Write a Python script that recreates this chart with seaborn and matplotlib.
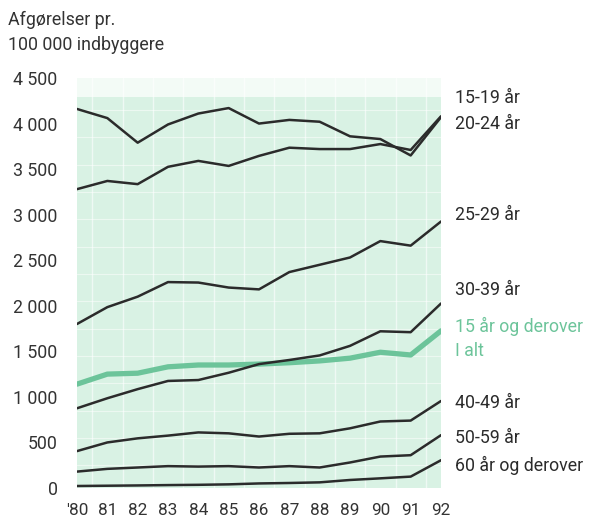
import matplotlib
matplotlib.use("Agg")
import matplotlib.pyplot as plt
import seaborn as sns
import pandas as pd

years = list(range(1980, 1993))
year_labels = ["'80", "81", "82", "83", "84", "85", "86", "87", "88", "89", "90", "91", "92"]

a15_19 = [4160, 4060, 3790, 3990, 4110, 4170, 4000, 4040, 4020, 3860, 3830, 3650, 4070]
a20_24 = [3280, 3370, 3335, 3525, 3590, 3535, 3645, 3735, 3720, 3720, 3775, 3710, 4080]
a25_29 = [1800, 1985, 2100, 2260, 2255, 2200, 2180, 2370, 2450, 2530, 2710, 2660, 2925]
a30_39 = [875, 985, 1085, 1175, 1185, 1265, 1360, 1405, 1455, 1560, 1720, 1710, 2025]
total = [1140, 1250, 1260, 1330, 1350, 1350, 1360, 1375, 1395, 1425, 1490, 1460, 1725]
a40_49 = [405, 500, 545, 575, 610, 600, 565, 595, 600, 655, 730, 740, 955]
a50_59 = [180, 210, 225, 240, 235, 240, 225, 240, 225, 280, 345, 360, 580]
a60 = [22, 25, 28, 32, 35, 40, 50, 55, 62, 88, 106, 125, 305]

black_series = {"15-19": a15_19, "20-24": a20_24, "25-29": a25_29, "30-39": a30_39,
                "40-49": a40_49, "50-59": a50_59, "60+": a60}

yticks = [0, 500, 1000, 1500, 2000, 2500, 3000, 3500, 4000, 4500]
ytick_labels = ["0", "500", "1 000", "1 500", "2 000", "2 500", "3 000", "3 500", "4 000", "4 500"]

sns.set_style("white")
plt.rcParams['font.family'] = ['Liberation Sans Narrow', 'Roboto', 'DejaVu Sans']

dark = "#2b2b2b"
green = "#6cc49a"
txtc = "#333333"
fs = 12.8

fig = plt.figure(figsize=(5.93, 5.28), dpi=100)
ax = fig.add_axes([77/593, 1 - 488/528, 364/593, 410/528])

# background panel
ax.axhspan(0, 4290, color="#d9f2e4", zorder=0, lw=0)
ax.axhspan(4290, 4500, color="#f3fbf6", zorder=0, lw=0)
for yr in years:
    ax.axvline(yr + 0.5, color="white", lw=1.0, alpha=0.6, zorder=1)
for v in range(250, 4300, 300):
    ax.axhline(v, color="white", lw=0.8, alpha=0.5, zorder=1)

rows = []
for name, vals in black_series.items():
    for y, v in zip(years, vals):
        rows.append({"year": y, "value": v, "group": name})
df = pd.DataFrame(rows)

sns.lineplot(data=df, x="year", y="value", units="group", estimator=None,
             color=dark, lw=1.8, ax=ax, zorder=3)
sns.lineplot(x=years, y=total, color=green, lw=3.8, ax=ax, zorder=2)

ax.set_xlim(1980, 1992)
ax.set_ylim(0, 4500)
ax.set_yticks(yticks)
ax.set_yticklabels(ytick_labels, fontsize=fs, color=txtc)
ax.set_xticks(years)
ax.set_xticklabels(year_labels, fontsize=12.3, color=txtc)
ax.tick_params(axis="y", length=0, pad=14)
ax.tick_params(axis="x", length=0, pad=11)
ax.set_xlabel("")
ax.set_ylabel("")
for s in ax.spines.values():
    s.set_visible(False)

fig.text(8/593, 1 - 20/528, "Afgørelser pr.", fontsize=fs, color=txtc, va="center")
fig.text(8/593, 1 - 45/528, "100 000 indbyggere", fontsize=fs, color=txtc, va="center")

labels = [("15-19 år", 98, dark), ("20-24 år", 124, dark), ("25-29 år", 215, dark),
          ("30-39 år", 290, dark), ("15 år og derover", 326, green), ("I alt", 351, green),
          ("40-49 år", 403, dark), ("50-59 år", 438, dark), ("60 år og derover", 465, dark)]
for txt, py, c in labels:
    fig.text(455/593, 1 - py/528, txt, fontsize=fs, color=c, va="center")

fig.savefig("out.png", dpi=100)
